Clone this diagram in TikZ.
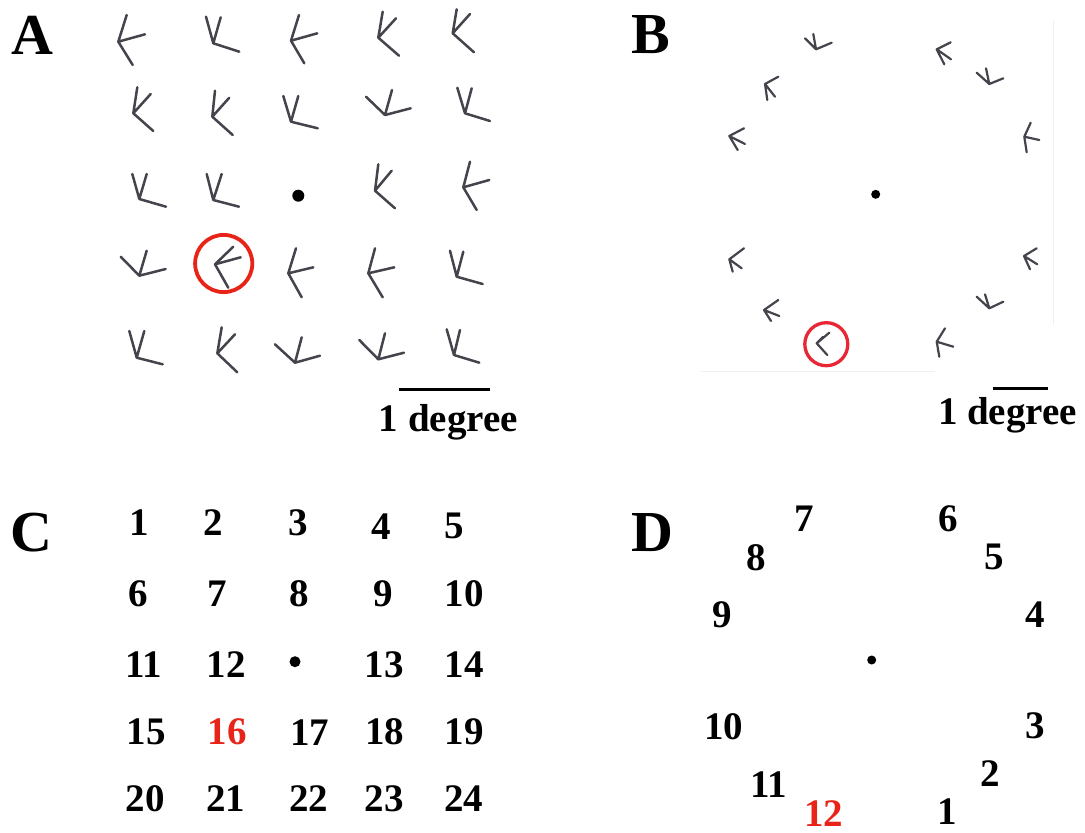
\documentclass[tikz,border=0pt]{standalone}
\usepackage{fontspec}
\setmainfont{Liberation Serif}
\definecolor{stimgray}{HTML}{44444D}
\definecolor{cue}{RGB}{232,36,24}
\definecolor{ringb}{RGB}{232,38,52}
\tikzset{
  stim/.style={draw=stimgray, line width=2.5pt, line cap=round, line join=round},
  stimsmall/.style={stim, line width=2.2pt},
  panel/.style={font=\fontsize{58}{60}\selectfont\bfseries, inner sep=0pt},
  num/.style={font=\fontsize{39}{40}\selectfont\bfseries, inner sep=0pt},
  cuenum/.style={num, text=cue},
  ring/.style={draw=cue, line width=3.8pt},
  fixdot/.style={fill=black, draw=none},
  scalebar/.style={line width=3pt},
  edge/.style={draw=black!6, line width=1pt}
}
% one three-armed stimulus: vertex, then the ends of its three arms
\newcommand{\stimA}[4]{\draw[stim] (#2) -- (#1) -- (#3) (#1) -- (#4);}
\newcommand{\stimB}[4]{\draw[stimsmall] (#2) -- (#1) -- (#3) (#1) -- (#4);}

\begin{document}
\begin{tikzpicture}[x=1pt, y=-1pt]
\useasboundingbox (0,0) rectangle (1085,833);

% ---------------- panel A: 5x5 grid ----------------
\node[panel] (lA) at (32.2,35) {A};
\stimA{118.3,41.7}{126.7,15}{145,34.3}{132.7,65}
\stimA{213.3,43.3}{206,16.7}{220.7,17.3}{239.3,51.7}
\stimA{291,40.7}{299,15}{317.3,33.3}{304.3,63.3}
\stimA{378.3,37.7}{382.7,11.7}{396,18.3}{399,55.7}
\stimA{452.7,33.3}{456.7,9.3}{470,14}{474,52.3}
\stimA{133.3,113.3}{137.3,87.3}{150.7,94}{153.3,131}
\stimA{212.3,116.7}{215,90.7}{229.3,97.7}{232.7,135}
\stimA{291,121.7}{283.3,96}{298.3,96}{317.7,128.3}
\stimA{385,115}{366,96.7}{392,90}{410.7,108.3}
\stimA{465,113.3}{457.3,87.7}{471.7,88.3}{490,121}
\stimA{139.3,199}{132.3,174}{146.7,174}{166,206.7}
\stimA{213.3,200}{206.7,174}{221.7,174}{239,206.7}
\fill[fixdot] (298.3,195.7) circle[radius=6];
\stimA{375,190.7}{378.3,164.3}{391.7,170.7}{395,208.3}
\stimA{463.3,187.3}{470,161.7}{489.3,180}{476.7,210}
\stimA{139.3,275.7}{120.7,256.7}{146.7,250.7}{165.7,269}
\stimA{215,264.3}{233.3,246.7}{240.7,257.3}{228.3,287.7}
\stimA{288.3,273.3}{296,248.3}{313.3,267.3}{301.7,297.3}
\stimA{368.3,273.3}{375,248.3}{394.3,267.3}{382.7,297.3}
\stimA{456.7,276.7}{450,250.7}{463.3,251.7}{482.7,284}
\stimA{136.7,357.7}{129.3,331}{144.3,331}{162.7,364.3}
\stimA{217.3,353.3}{221.7,327.3}{235,334.3}{237.3,372.3}
\stimA{295,362.7}{275,344.3}{301.7,337.3}{320,355.7}
\stimA{378.3,359.3}{359.3,340}{385,333.3}{404,352.7}
\stimA{454,355}{446.7,329.3}{460,330}{479.3,362.7}
\draw[ring] (223.7,263.5) circle[radius=28.6];
\coordinate (barA1) at (399,389.3);
\coordinate (barA2) at (490,389.3);
\draw[scalebar] (barA1) -- (barA2);
\node[num, anchor=base] (degA) at (448.3,431.5) {1 degree};

% ---------------- panel B: ring of 12 ----------------
\node[panel] (lB) at (650.5,35) {B};
\draw[edge] (1053,20) -- (1053,325);
\draw[edge] (701,371.7) -- (935,371.7);
\stimB{816,49.3}{805,38.3}{813.3,34}{831.7,42.7}
\stimB{765,84}{778.3,76.7}{767.3,100}{775,96.7}
\stimB{729.3,136}{744,128.3}{737.7,150}{745,144}
\stimB{936.7,49.3}{950.7,42.3}{944.3,64.3}{951,59.3}
\stimB{989.3,84}{976.7,72.7}{986,68.3}{1003.3,78.3}
\stimB{1024.3,136.7}{1030.7,122.7}{1039.3,140}{1026.7,152.3}
\fill[fixdot] (875.7,194.3) circle[radius=4.5];
\stimB{729.3,259.3}{744,248.3}{732.7,271.7}{741.7,268.3}
\stimB{764,310}{778.3,300}{771,321}{779.3,316}
\stimB{816.7,343.3}{829.3,332.7}{827.3,355}{823,337}
\stimB{936.7,341.7}{945,328.3}{953.3,346.7}{939.3,356.7}
\stimB{989.3,308.3}{976.7,296.7}{985,294.3}{1003.3,301.7}
\stimB{1024,256}{1036.7,248.3}{1030,269.3}{1037.3,264.3}
\draw[ring, draw=ringb, line width=3.3pt] (826.3,344.2) circle[radius=21.5];
\coordinate (barB1) at (992.7,388.3);
\coordinate (barB2) at (1048.3,388.3);
\draw[scalebar] (barB1) -- (barB2);
\node[num, anchor=base] (degB) at (1007.5,424) {1 degree};

% ---------------- panel C: grid positions ----------------
\node[panel] (lC) at (31.3,532.5) {C};
\node[num] (c1) at (139,523) {1};
\node[num] (c2) at (213.7,523) {2};
\node[num] (c3) at (298,523) {3};
\node[num] (c4) at (381.3,526.3) {4};
\node[num] (c5) at (454,526.3) {5};
\node[num] (c6) at (138.3,593.3) {6};
\node[num] (c7) at (217,593.3) {7};
\node[num] (c8) at (299.5,593.3) {8};
\node[num] (c9) at (382.8,593.3) {9};
\node[num] (c10) at (464.2,593.3) {10};
\node[num] (c11) at (144,665) {11};
\node[num] (c12) at (226,665) {12};
\fill[fixdot] (295,661.7) circle[radius=5.5];
\node[num] (c13) at (384,665) {13};
\node[num] (c14) at (464.2,665) {14};
\node[num] (c15) at (146.3,732.2) {15};
\node[cuenum] (c16) at (227.2,732.2) {16};
\node[num] (c17) at (309.5,732.2) {17};
\node[num] (c18) at (384.7,732.2) {18};
\node[num] (c19) at (464.2,732.2) {19};
\node[num] (c20) at (145,798.8) {20};
\node[num] (c21) at (225.8,798.8) {21};
\node[num] (c22) at (308.8,798.8) {22};
\node[num] (c23) at (384,798.8) {23};
\node[num] (c24) at (463.8,798.8) {24};

% ---------------- panel D: ring positions ----------------
\node[panel] (lD) at (652.7,532.7) {D};
\node[num] (d7) at (804.2,518.8) {7};
\node[num] (d6) at (948.3,518.8) {6};
\node[num] (d8) at (755.8,557.8) {8};
\node[num] (d5) at (994.2,557.3) {5};
\node[num] (d9) at (722.5,614.5) {9};
\node[num] (d4) at (1035,614.5) {4};
\fill[fixdot] (871.7,660) circle[radius=4.5];
\node[num] (d10) at (723.8,726.7) {10};
\node[num] (d3) at (1035,725.5) {3};
\node[num] (d11) at (768.8,785) {11};
\node[num] (d2) at (990.5,774) {2};
\node[cuenum] (d12) at (823.8,814) {12};
\node[num] (d1) at (947.5,811.2) {1};
\end{tikzpicture}
\end{document}
